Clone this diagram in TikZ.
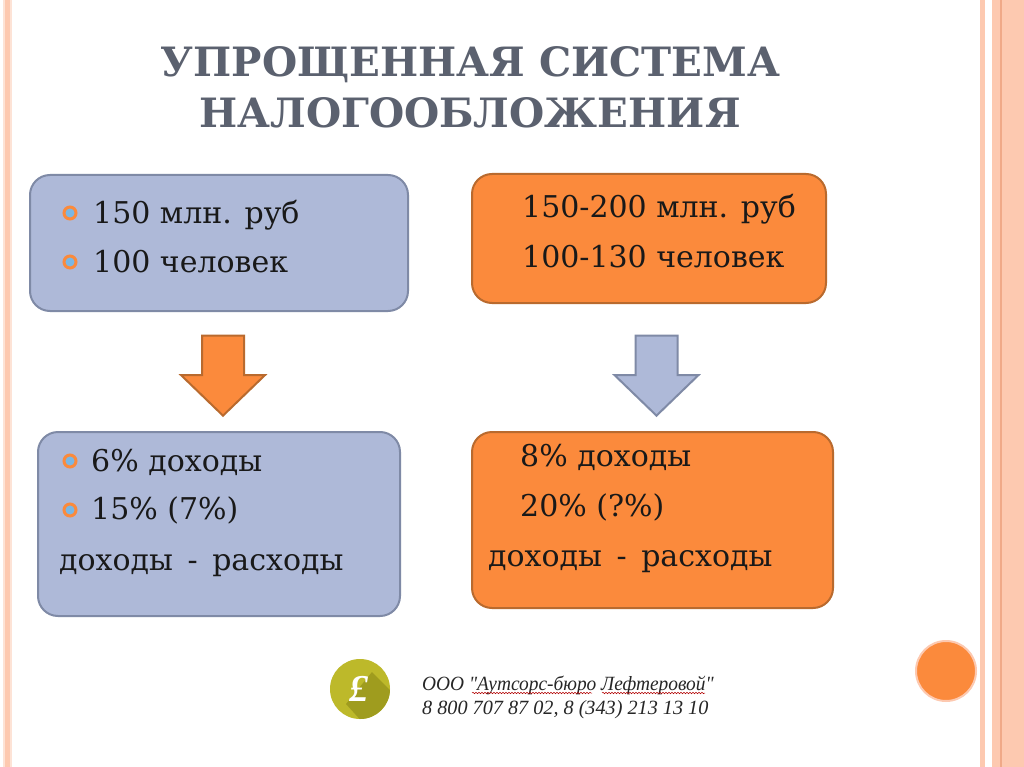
\documentclass[tikz,border=0pt]{standalone}
\usepackage{fontspec}
\setmainfont{DejaVu Serif}
\newfontfamily\logofont{Liberation Serif}
\usetikzlibrary{shapes.arrows, decorations.pathmorphing}
\definecolor{bluefill}{HTML}{AEB9D8}
\definecolor{blueline}{HTML}{7F8AA6}
\definecolor{orangefill}{HTML}{FB8A3C}
\definecolor{orangeline}{HTML}{B96A2E}
\definecolor{titlegray}{HTML}{5B616F}
\definecolor{peach}{HTML}{FDC9B0}
\definecolor{peachdark}{HTML}{F0A988}
\definecolor{peachpale}{HTML}{FDE3D6}
\definecolor{logogreen}{HTML}{BDB92A}
\definecolor{logoshade}{HTML}{9F9C1E}
\tikzset{
  x=1pt, y=-1pt,
  box/.style={draw, line width=2pt, rounded corners=20pt, inner sep=0pt, outer sep=0pt, anchor=north west},
  bluebox/.style={box, fill=bluefill, draw=blueline},
  orangebox/.style={box, fill=orangefill, draw=orangeline},
  txt/.style={font=\fontsize{30}{30}\selectfont, text=black!90, anchor=base west, inner sep=0pt},
  titletxt/.style={font=\fontsize{40.4}{41}\selectfont\bfseries, text=titlegray, anchor=base, inner sep=0pt},
  bullet/.style={draw=orangefill, line width=3pt, fill=blue!30!cyan!30!bluefill, circle, inner sep=0pt, minimum size=12pt},
  downarrow/.style={single arrow, shape border rotate=270, single arrow head extend=21pt, single arrow tip angle=92,
    inner sep=20pt, outer sep=0pt, minimum height=80pt, line width=2pt, anchor=center},
  logotxt/.style={font=\logofont\itshape\fontsize{20.2}{20}\selectfont, text=black!85, anchor=base west, inner sep=0pt},
  wavy/.style={draw=red!70!black, line width=0.5pt, decorate, decoration={snake, amplitude=0.7pt, segment length=3pt}}
}
\begin{document}
\begin{tikzpicture}
\useasboundingbox (0,0) rectangle (1024,767);
\fill[white] (0,0) rectangle (1024,767);

% side stripes
\fill[peachpale] (3,0) rectangle (12,767);
\fill[peach] (5,0) rectangle (10,767);
\fill[peach] (980,0) rectangle (985,767);
\fill[peach] (992,0) rectangle (1024,767);
\fill[peachdark] (1000,0) rectangle (1002,767);

% title
\node [titletxt] (title1) at (470.5,77) {УПРОЩЕННАЯ СИСТЕМА};
\node [titletxt] (title2) at (470,128) {НАЛОГООБЛОЖЕНИЯ};

% boxes
\node [bluebox, minimum width=378pt, minimum height=136pt] (lefttop) at (30,175) {};
\node [orangebox, minimum width=354pt, minimum height=129pt] (righttop) at (472,174) {};
\node [bluebox, minimum width=362pt, minimum height=184pt] (leftbot) at (38,432) {};
\node [orangebox, minimum width=361pt, minimum height=176pt] (rightbot) at (472,432) {};

% arrows
\node [downarrow, fill=orangefill, draw=orangeline] (arrowleft) at (223,365.5) {};
\node [downarrow, fill=bluefill, draw=blueline] (arrowright) at (656.5,365.5) {};

% texts
\node [bullet] (b1) at (70,213) {};
\node [txt] (t1) at (93,223) {150 млн. руб};
\node [bullet] (b2) at (70,262) {};
\node [txt] (t2) at (93,272) {100 человек};
\node [txt] (t3) at (522,218) {150-200 млн. руб};
\node [txt] (t4) at (522,267) {100-130 человек};
\node [bullet] (b3) at (70,461) {};
\node [txt] (t5) at (91,471) {6\% доходы};
\node [bullet] (b4) at (70,510) {};
\node [txt] (t6) at (91,519) {15\% (7\%)};
\node [txt] (t7) at (59,570) {доходы\hspace{5pt} - \hspace{5pt}расходы};
\node [txt] (t8) at (520,466) {8\% доходы};
\node [txt] (t9) at (520,516) {20\% (?\%)};
\node [txt] (t10) at (488,566) {доходы\hspace{5pt} - \hspace{5pt}расходы};

% logo and circle
\node [circle, fill=orangefill, draw=peach, line width=2pt, minimum size=60pt, inner sep=0pt] (dot) at (946,671) {};
\node [circle, fill=logogreen, minimum size=60pt, inner sep=0pt] (logo) at (360,689) {};
\begin{scope}
\clip (360,689) circle (30);
\fill[logoshade] (372,672) -- (395,695) -- (395,725) -- (365,725) -- (346,704) -- cycle;
\end{scope}
\node [text=white, font=\logofont\itshape\bfseries\fontsize{38}{38}\selectfont, inner sep=0pt] (pound) at (359,689) {£};
\node [logotxt, xscale=0.96] (firm) at (422,690) {ООО "Аутсорс-бюро Лефтеровой"};
\node [logotxt] (phone) at (422,714) {8 800 707 87 02, 8 (343) 213 13 10};
\draw[wavy] (472,693) -- (592,693);
\draw[wavy] (602,693) -- (705,693);
\end{tikzpicture}
\end{document}
